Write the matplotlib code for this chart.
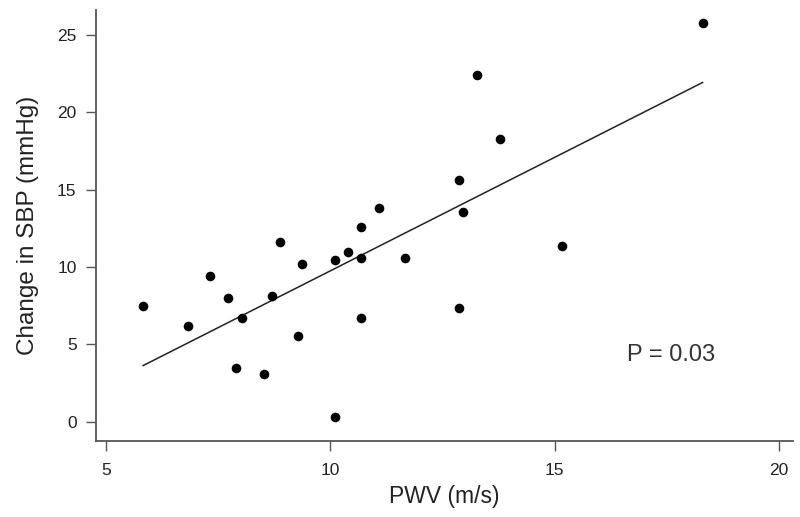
import numpy as np
import matplotlib
matplotlib.use("Agg")
import matplotlib.pyplot as plt

plt.rcParams['font.family'] = ['Liberation Sans', 'DejaVu Sans']

# PWV (m/s) and change in SBP (mmHg)
pwv = [5.83, 6.82, 7.32, 7.72, 7.89, 8.04, 8.52, 8.70, 8.88, 9.29,
       9.37, 10.10, 10.10, 10.40, 10.68, 10.68, 10.68, 11.08, 11.67, 12.88,
       12.88, 12.96, 13.28, 13.78, 15.17, 18.30]
dsbp = [7.48, 6.17, 9.42, 8.00, 3.45, 6.68, 3.06, 8.13, 11.62, 5.54,
        10.21, 0.32, 10.45, 10.97, 12.57, 10.60, 6.68, 13.83, 10.60, 15.64,
        7.33, 13.57, 22.41, 18.26, 11.36, 25.77]

# regression line as drawn in the reference
fit_slope = 1.467
fit_intercept = -4.93
p_text = "P = 0.03"

fig = plt.figure(figsize=(8, 5.17), dpi=100)
ax = fig.add_axes([0.12, 0.147, 0.871, 0.834])

ax.scatter(pwv, dsbp, s=48, color='black', zorder=3, linewidths=0)
xs = np.array([min(pwv), max(pwv)])
ax.plot(xs, fit_intercept + fit_slope * xs, color='#222222', lw=1.1)

ax.set_xlim(4.78, 20.31)
ax.set_ylim(-1.25, 26.61)
ax.set_xticks([5, 10, 15, 20])
ax.set_yticks([0, 5, 10, 15, 20, 25])

for side in ['top', 'right']:
    ax.spines[side].set_visible(False)
for side in ['left', 'bottom']:
    ax.spines[side].set_color('#555555')
    ax.spines[side].set_linewidth(1.3)

ax.tick_params(axis='x', length=7, width=1, color='#555555', pad=9, labelsize=12.5, labelcolor='#222222')
ax.tick_params(axis='y', length=7, width=1, color='#555555', pad=7, labelsize=12.5, labelcolor='#222222')

ax.set_xlabel('PWV (m/s)', fontsize=16.5, color='#222222', labelpad=5)
ax.set_ylabel('Change in SBP (mmHg)', fontsize=17.5, color='#222222', labelpad=13)

ax.text(16.61, 4.31, p_text, fontsize=17, color='#333333', ha='left', va='center')

fig.savefig('out.png', dpi=100)
